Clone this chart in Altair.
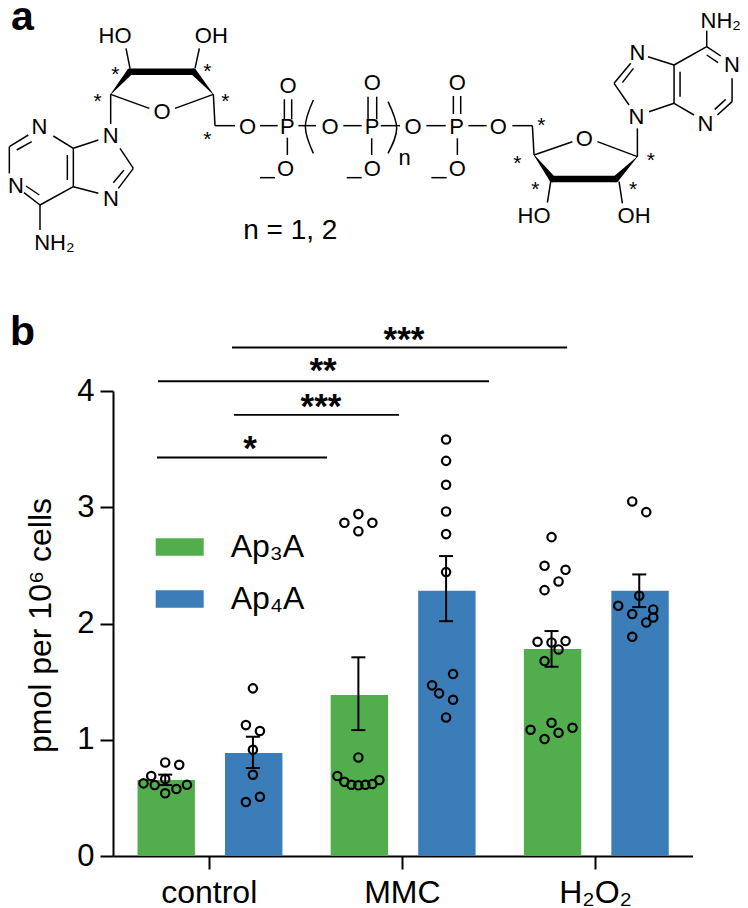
import altair as alt
import pandas as pd

# ---------- panel b data ----------
categories = ["control", "MMC", "H₂O₂"]
series_names = ["Ap₃A", "Ap₄A"]
series_colors = ["#52AE4D", "#3A7DB8"]

bar_means = {
    "Ap₃A": [0.653, 1.384, 1.78],
    "Ap₄A": [0.886, 2.281, 2.281],
}
err_upper = {
    "Ap₃A": [0.70, 1.709, 1.935],
    "Ap₄A": [1.026, 2.58, 2.422],
}
err_lower = {
    "Ap₃A": [0.61, 1.083, 1.628],
    "Ap₄A": [0.757, 2.02, 2.141],
}
# individual replicates (value, horizontal swarm slot)
ctrl_3 = [.805, .785, .688, .662, .625, .610, .613, .576, .539]
ctrl_3_slot = [0, 2, -2, 0, -3.1, -1.5, 3.1, 1.6, 0]
ctrl_4 = [1.442, 1.126, 1.075, .914, .699, .510, .464]
ctrl_4_slot = [0, -1, 1, 0, 0, 1, -1]
mmc_3 = [2.866, 2.941, 2.866, 2.794, .848, .688, .639, .613, .608, .613, .619, .653]
mmc_3_slot = [-2, 0, 2, 0, 0, -3, -2, -1, 0, 1, 2, 3]
mmc_4 = [3.583, 3.399, 3.193, 2.964, 2.769, 2.442, 1.565, 1.468, 1.399, 1.344, 1.192]
mmc_4_slot = [0, 0, 0, 0, 0, 0, 1, -2, -1, 1, 0]
h2o2_3 = [2.743, 2.496, 2.462, 2.362, 2.287, 1.843, 1.837, 1.849, 1.777, 1.677,
          1.146, 1.103, 1.086, 1.060, 1.006]
h2o2_3_slot = [0, -1, 2, 1, -1, -2, 0, 2, 1, -1, 0, 3, -3, 1, -1]
h2o2_4 = [3.050, 2.958, 2.238, 2.152, 2.121, 2.081, 2.052, 2.009, 1.886]
h2o2_4_slot = [-1, 1, 0, -3, 2, -1, 2, 1, -1]

# ---------- scale helpers: picture pixels to data units ----------
PX_X = 193.15
PX_Y = 116.25
def ux(px):
    return (px - 208.7) / PX_X
def uy(py):
    return (856 - py) / PX_Y
def L(x, y):   # left half of the structure
    return (x / 3, y / 3)
def R(x, y):   # right half of the structure
    return (374 + x / 3, y / 3)

BAR_OFF = {"Ap₃A": -42.5 / PX_X, "Ap₄A": 45.0 / PX_X}
PT_OFF = {"Ap₃A": -43.5 / PX_X, "Ap₄A": 44.2 / PX_X}
BAR_HALF = 28.7 / PX_X
CAP_HALF = 7.0 / PX_X
SLOT = 7.0 / PX_X

bars = []
errs = []
for s in series_names:
    for i, c in enumerate(categories):
        bars.append({"series": s, "x": i + BAR_OFF[s] - BAR_HALF, "x2": i + BAR_OFF[s] + BAR_HALF,
                     "v": bar_means[s][i], "base": 0})
        errs.append({"x": i + PT_OFF[s], "xl": i + PT_OFF[s] - CAP_HALF, "xr": i + PT_OFF[s] + CAP_HALF,
                     "up": err_upper[s][i], "lo": err_lower[s][i]})
bars = pd.DataFrame(bars)
errs = pd.DataFrame(errs)

pts = []
for i, s, vals, slots in [
    (0, "Ap₃A", ctrl_3, ctrl_3_slot), (0, "Ap₄A", ctrl_4, ctrl_4_slot),
    (1, "Ap₃A", mmc_3, mmc_3_slot), (1, "Ap₄A", mmc_4, mmc_4_slot),
    (2, "Ap₃A", h2o2_3, h2o2_3_slot), (2, "Ap₄A", h2o2_4, h2o2_4_slot),
]:
    for v, k in zip(vals, slots):
        pts.append({"x": i + PT_OFF[s] + k * SLOT, "v": v})
pts = pd.DataFrame(pts)

# significance lines: from bar, to bar, height, label
sig_lines = [(157, 327, 3.428), (234, 399, 3.795), (158, 489, 4.084), (232, 567, 4.374)]
sig_text = [("*", 250, 3.60), ("***", 321, 3.955), ("**", 323, 4.27), ("***", 404, 4.53)]

# ---------- panel a: the chemical structure ----------
bond_list = [
    # left ribose and phosphates
    (L(332, 283), L(332, 372)), (L(332, 283), L(448, 325)), (L(525, 325), L(640, 283)),
    (L(390, 205), L(378, 145)), (L(585, 205), L(598, 145)),
    (L(640, 283), L(645, 377)), (L(645, 377), L(705, 377)), (L(780, 377), L(833, 377)),
    (L(853, 298), L(853, 358)), (L(875, 298), L(875, 358)), (L(862, 413), L(862, 465)),
    (L(780, 533), L(825, 533)),
    (L(895, 377), L(948, 377)), (L(1030, 377), L(1085, 377)),
    (L(1104, 290), L(1104, 358)), (R(8, 290), R(8, 358)), (L(1115, 415), L(1115, 465)),
    (L(1040, 533), L(1085, 533)),
    # right phosphates and ribose
    (R(20, 377), R(78, 377)), (R(157, 377), R(215, 377)),
    (R(238, 288), R(238, 342)), (R(260, 288), R(260, 342)), (R(250, 415), R(250, 465)),
    (R(172, 533), R(218, 533)),
    (R(283, 377), R(338, 377)), (R(415, 377), R(475, 377)), (R(475, 377), R(480, 465)),
    (R(480, 465), R(595, 425)), (R(670, 425), R(790, 470)), (R(790, 470), R(790, 385)),
    (R(530, 545), R(520, 608)), (R(735, 545), R(745, 610)),
    # right adenine
    (R(765, 315), R(720, 250)), (R(720, 250), R(770, 190)), (R(745, 248), R(778, 205)),
    (R(822, 170), R(900, 195)), (R(900, 195), R(998, 140)), (R(998, 140), R(1040, 168)),
    (R(998, 165), R(1032, 188)), (R(1074, 235), R(1074, 305)), (R(1074, 305), R(1030, 345)),
    (R(1055, 298), R(1022, 328)), (R(960, 345), R(900, 310)), (R(900, 310), R(900, 195)),
    (R(918, 290), R(918, 215)), (R(900, 310), R(825, 335)), (R(998, 140), R(998, 92)),
    # left adenine
    (L(295, 420), L(220, 445)), (L(360, 445), L(400, 505)), (L(400, 505), L(355, 565)),
    (L(372, 510), L(340, 548)), (L(295, 580), L(220, 560)), (L(220, 445), L(220, 560)),
    (L(202, 465), L(202, 540)), (L(220, 445), L(160, 408)), (L(85, 405), L(28, 440)),
    (L(95, 425), L(50, 450)), (L(28, 440), L(28, 520)), (L(72, 578), L(120, 615)),
    (L(78, 558), L(118, 585)), (L(120, 615), L(220, 560)), (L(120, 615), L(120, 690)),
]
bonds = pd.DataFrame([{"x": ux(a[0]), "y": uy(a[1]), "x2": ux(b[0]), "y2": uy(b[1])} for a, b in bond_list])

wedge_paths = [
    [(L(332, 283), .5), (L(390, 215), 6.5), (L(580, 215), 6.5), (L(640, 283), .5)],
    [(R(480, 465), .5), (R(535, 537), 6.5), (R(725, 537), 6.5), (R(790, 470), .5)],
]
wedges = pd.DataFrame([{"id": k, "i": i, "x": ux(p[0]), "y": uy(p[1]), "w": w}
                       for k, path in enumerate(wedge_paths) for i, (p, w) in enumerate(path)])

paren_paths = [
    [L(940, 300), L(916, 380), L(940, 460)],
    [R(42, 305), R(68, 385), R(42, 460)],
]
parens = pd.DataFrame([{"id": k, "i": i, "x": ux(p[0]), "y": uy(p[1])}
                       for k, path in enumerate(paren_paths) for i, p in enumerate(path)])

atom_list = [
    ("HO", L(345, 107)), ("OH", L(634, 107)), ("O", L(486, 335)), ("O", L(743, 381)), ("P", L(862, 381)),
    ("O", L(864, 258)), ("O", L(857, 507)), ("O", L(990, 381)), ("P", L(1116, 381)), ("O", L(1117, 250)),
    ("O", L(1117, 507)), ("N", L(118, 381)), ("N", L(48, 558)), ("N", L(332, 408)), ("N", L(333, 597)),
    ("NH₂", L(163, 730)),
    ("O", R(117, 381)), ("P", R(248, 381)), ("O", R(250, 250)), ("O", R(250, 507)), ("n", R(92, 475)),
    ("O", R(373, 381)), ("O", R(631, 417)), ("N", R(787, 350)), ("N", R(790, 160)), ("N", R(1074, 195)),
    ("N", R(994, 373)), ("NH₂", R(1040, 64)), ("HO", R(480, 648)), ("OH", R(780, 648)),
]
atoms = pd.DataFrame([{"t": t, "x": ux(p[0]), "y": uy(p[1])} for t, p in atom_list])

star_list = [L(346, 208), L(622, 198), L(293, 288), L(676, 288), L(622, 402),
             R(502, 360), R(430, 475), R(484, 553), R(830, 465), R(777, 553)]
stars = pd.DataFrame([{"t": "*", "x": ux(p[0]), "y": uy(p[1])} for p in star_list])

note = pd.DataFrame([{"t": "n = 1, 2", "x": ux(L(871, 0)[0]), "y": uy(231)}])
panel_letters = pd.DataFrame([{"t": "a", "x": ux(11), "y": uy(18)}, {"t": "b", "x": ux(10), "y": uy(333)}])

FONT = "Liberation Sans"
X = lambda f="x": alt.X(f, type="quantitative",
                        scale=alt.Scale(domain=[-0.4955, 2.5045], nice=False, zero=False, padding=0),
                        axis=alt.Axis(values=[0, 1, 2],
                                      labelExpr="['%s','%s','%s'][datum.value]" % tuple(categories),
                                      title=None, grid=False, labelAngle=0, labelFlush=False, labelOverlap=False,
                                      labelFont=FONT, labelFontSize=32, labelColor="#000", labelPadding=8,
                                      domainColor="#000", domainWidth=2, tickColor="#000", tickWidth=2, tickSize=13))
Y = lambda f="y": alt.Y(f, type="quantitative",
                        scale=alt.Scale(domain=[0, 4], nice=False, zero=False, padding=0),
                        axis=alt.Axis(values=[0, 1, 2, 3, 4], title="pmol per 10⁶ cells", grid=False, format="d",
                                      titleFont=FONT, titleFontSize=32, titleFontWeight="normal", titleColor="#000",
                                      titleX=-56, titleY=234,
                                      labelFont=FONT, labelFontSize=31, labelColor="#000", labelPadding=6,
                                      domainColor="#000", domainWidth=2, tickColor="#000", tickWidth=2, tickSize=13))

bar_layer = alt.Chart(bars).mark_bar().encode(
    x=X(), x2="x2", y=Y("v"), y2="base",
    color=alt.Color("series:N", scale=alt.Scale(domain=series_names, range=series_colors),
                    legend=alt.Legend(title=None, orient="none", legendX=42.7, legendY=132, padding=0,
                                      symbolType="M-1,-0.36H1V0.36H-1Z", symbolSize=2304, symbolStrokeWidth=0,
                                      labelFont=FONT, labelFontSize=32, labelColor="#000", labelOffset=27,
                                      rowPadding=12)),
)
err_v = alt.Chart(errs).mark_rule(color="#000", strokeWidth=2).encode(x=X(), y=Y("lo"), y2="up")
err_top = alt.Chart(errs).mark_rule(color="#000", strokeWidth=2).encode(x=X("xl"), x2="xr", y=Y("up"))
err_bot = alt.Chart(errs).mark_rule(color="#000", strokeWidth=2).encode(x=X("xl"), x2="xr", y=Y("lo"))
pt_layer = alt.Chart(pts).mark_point(shape="circle", filled=False, color="#000", strokeWidth=2.2, size=70, opacity=1).encode(
    x=X(), y=Y("v"))

sig_df = pd.DataFrame([{"x": ux(a), "x2": ux(b), "y": h} for a, b, h in sig_lines])
sig_layer = alt.Chart(sig_df).mark_rule(color="#000", strokeWidth=1.8).encode(x=X(), x2="x2", y=Y())
sig_lab = pd.DataFrame([{"t": t, "x": ux(a), "y": h} for t, a, h in sig_text])
sig_t = alt.Chart(sig_lab).mark_text(font=FONT, fontSize=35, fontWeight="bold", color="#000", baseline="middle", dy=11).encode(
    x=X(), y=Y(), text="t:N")

bond_layer = alt.Chart(bonds).mark_rule(color="#000", strokeWidth=1.5).encode(x=X(), x2="x2", y=Y(), y2="y2")
wedge_layer = alt.Chart(wedges).mark_trail(color="#000").encode(
    x=X(), y=Y(), detail="id:N", order="i:Q", size=alt.Size("w:Q", scale=None, legend=None))
paren_layer = alt.Chart(parens).mark_line(color="#000", strokeWidth=1.5, interpolate="natural").encode(
    x=X(), y=Y(), detail="id:N", order="i:Q")
atom_layer = alt.Chart(atoms).mark_text(font=FONT, fontSize=22, color="#000", baseline="middle").encode(
    x=X(), y=Y(), text="t:N")
star_layer = alt.Chart(stars).mark_text(font=FONT, fontSize=21, color="#000", baseline="middle", dy=6).encode(
    x=X(), y=Y(), text="t:N")
note_layer = alt.Chart(note).mark_text(font=FONT, fontSize=28, color="#000", baseline="middle").encode(
    x=X(), y=Y(), text="t:N")
letter_layer = alt.Chart(panel_letters).mark_text(font=FONT, fontSize=41, fontWeight="bold", color="#000",
                                                  align="left", baseline="middle").encode(
    x=X(), y=Y(), text="t:N")

chart = alt.layer(
    bar_layer, err_v, err_top, err_bot, pt_layer, sig_layer, sig_t,
    bond_layer, wedge_layer, paren_layer, atom_layer, star_layer, note_layer, letter_layer,
).properties(
    width=579.5, height=465,
    padding={"left": 105, "top": 383, "right": 47.5, "bottom": 52},
    autosize=alt.AutoSizeParams(type="none"),
    background="white",
).configure_view(stroke=None)

chart.save("out.html", embed_options={"renderer": "svg", "actions": False})
